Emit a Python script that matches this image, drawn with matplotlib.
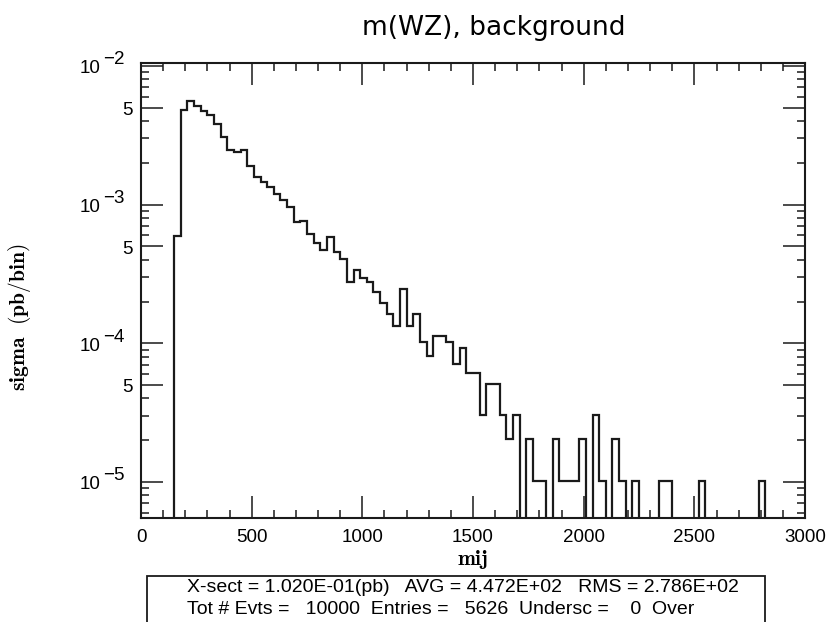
import numpy as np
import matplotlib
matplotlib.use('Agg')
import matplotlib.pyplot as plt
from matplotlib.patches import Rectangle
from matplotlib.ticker import FixedLocator, MultipleLocator, LogLocator, NullFormatter

plt.rcParams['font.family'] = ['Liberation Sans', 'DejaVu Sans']
plt.rcParams['mathtext.fontset'] = 'cm'

# histogram: 100 bins of 30 GeV from 0 to 3000, entries per bin
X_LO, X_HI, BIN_W = 0, 3000, 30
counts = [
    0, 0, 0, 0, 0, 58, 470, 545, 507, 467,          # 0 - 270
    436, 376, 299, 244, 233, 241, 187, 155, 142, 132,  # 300 - 570
    116, 106, 95, 73, 75, 60, 52, 46, 57, 45,       # 600 - 870
    40, 27, 33, 29, 27, 23, 19, 16, 13, 24,         # 900 - 1170
    13, 16, 10, 8, 11, 11, 10, 7, 9, 6,             # 1200 - 1470
    6, 3, 5, 5, 3, 2, 3, 0, 2, 1,                   # 1500 - 1770
    1, 0, 2, 1, 1, 1, 2, 0, 3, 1,                   # 1800 - 2070
    0, 2, 1, 0, 1, 0, 0, 0, 1, 1,                   # 2100 - 2370
    0, 0, 0, 0, 1, 0, 0, 0, 0, 0,                   # 2400 - 2670
    0, 0, 0, 1, 0, 0, 0, 0, 0, 0,                   # 2700 - 2970
]
XSECT = 1.020e-01   # pb
N_EVTS = 10000

y_ticks = [1e-5, 5e-5, 1e-4, 5e-4, 1e-3, 5e-3, 1e-2]
y_base = ['10', '5', '10', '5', '10', '5', '10']
y_exp = ['\u22125', '', '\u22124', '', '\u22123', '', '\u22122']

stats_line1 = 'X-sect = 1.020E-01(pb)   AVG = 4.472E+02   RMS = 2.786E+02'
stats_line2 = 'Tot # Evts =   10000  Entries =   5626  Undersc =    0  Over'

edges = np.arange(X_LO, X_HI + BIN_W, BIN_W)
sigma = np.array(counts) * XSECT / N_EVTS
sigma = np.where(sigma > 0, sigma, 1e-12)   # empty bins drop off the log axis

fig = plt.figure(figsize=(8.29, 6.22), dpi=100)
ax = fig.add_axes([0.1701, 0.1672, 0.8010, 0.7315])

ax.stairs(sigma, edges, baseline=None, color='#1a1a1a', lw=1.6)

ax.set_yscale('log')
ax.set_xlim(X_LO, X_HI)
ax.set_ylim(5.5e-6, 1.05e-2)

ax.xaxis.set_major_locator(MultipleLocator(500))
ax.xaxis.set_minor_locator(MultipleLocator(100))
ax.yaxis.set_major_locator(FixedLocator(y_ticks))
ax.yaxis.set_major_formatter(NullFormatter())
ax.yaxis.set_minor_locator(LogLocator(base=10, subs=[2, 3, 4, 6, 7, 8, 9]))
ax.yaxis.set_minor_formatter(NullFormatter())

ax.tick_params(which='both', direction='in', top=True, right=True, colors='#1a1a1a')
ax.tick_params(which='major', length=15.5, width=1.1, labelsize=13.5, labelcolor='black')
ax.tick_params(which='minor', length=5.8, width=1.1)
ax.tick_params(axis='x', which='major', pad=8)
for sp in ax.spines.values():
    sp.set_linewidth(1.5)
    sp.set_color('#1a1a1a')

# y tick labels: topdrawer style, exponent as large as the base
ytrans = ax.get_yaxis_transform()
for val, base, ex in zip(y_ticks, y_base, y_exp):
    if ex:
        ax.annotate(base, xy=(0, val), xycoords=ytrans, xytext=(-29.5, -2),
                    textcoords='offset points', ha='right', va='center',
                    fontsize=13.5, annotation_clip=False)
        ax.annotate(ex, xy=(0, val), xycoords=ytrans, xytext=(-12, 4.5),
                    textcoords='offset points', ha='right', va='center',
                    fontsize=13.5, annotation_clip=False)
    else:
        ax.annotate(base, xy=(0, val), xycoords=ytrans, xytext=(-6, -2),
                    textcoords='offset points', ha='right', va='center',
                    fontsize=13.5, annotation_clip=False)

ax.set_xlabel(r'$\mathbf{mij}$', fontsize=15.5)
ax.xaxis.set_label_coords(0.5, -0.066)
ax.set_ylabel(r'$\mathbf{sigma\ \ (pb/bin)}$', fontsize=15.5)
ax.yaxis.set_label_coords(-0.163, 0.44)

fig.text(0.595, 0.955, 'm(WZ), background', family='DejaVu Sans',
         fontsize=19, ha='center', va='center')

box = Rectangle((0.1773, -0.05), 0.7455, 0.05 + 0.074, transform=fig.transFigure,
                fill=False, lw=1.3, ec='#1a1a1a', clip_on=False)
fig.add_artist(box)
fig.text(0.2256, 0.0547, stats_line1, fontsize=14, ha='left', va='center')
fig.text(0.2256, 0.0193, stats_line2, fontsize=14, ha='left', va='center')

fig.savefig('out.png', dpi=100)
